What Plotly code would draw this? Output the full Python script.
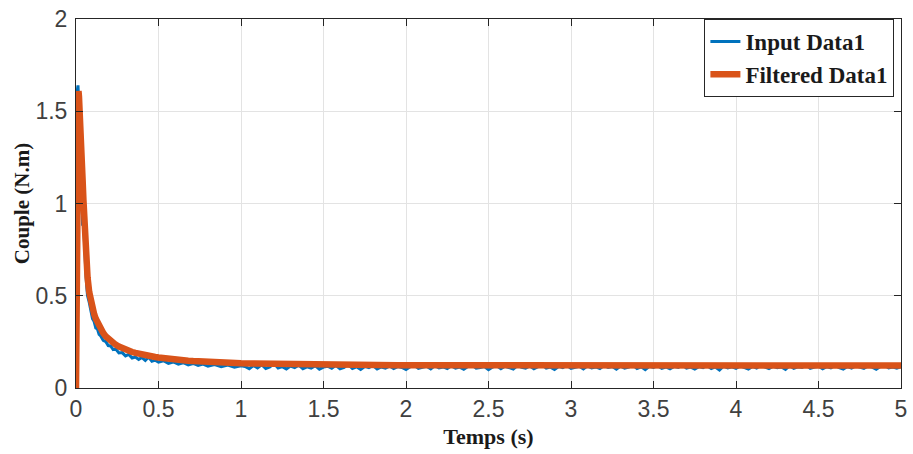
import plotly.graph_objects as go

# ---------------- data ----------------
t_early = [0, 0.003, 0.006, 0.009, 0.012, 0.015, 0.018, 0.022, 0.026, 0.03,
           0.035, 0.04, 0.045, 0.05, 0.055, 0.06, 0.065, 0.07, 0.08, 0.09,
           0.1, 0.11, 0.12, 0.13, 0.14, 0.15, 0.165, 0.18, 0.195, 0.21,
           0.225, 0.24, 0.26, 0.28, 0.3, 0.32, 0.34, 0.36, 0.38, 0.4,
           0.42, 0.44, 0.46, 0.48, 0.5, 0.53, 0.56, 0.59, 0.62, 0.65,
           0.68, 0.71, 0.74, 0.77, 0.8, 0.84, 0.88, 0.92, 0.96, 1.0]

# filtered signal tail sampling (every 0.05 s)
t_tail_filtered = [1.05, 1.1, 1.15, 1.2, 1.25, 1.3, 1.35, 1.4, 1.45, 1.5,
                   1.55, 1.6, 1.65, 1.7, 1.75, 1.8, 1.85, 1.9, 1.95, 2.0,
                   2.05, 2.1, 2.15, 2.2, 2.25, 2.3, 2.35, 2.4, 2.45, 2.5,
                   2.55, 2.6, 2.65, 2.7, 2.75, 2.8, 2.85, 2.9, 2.95, 3.0,
                   3.05, 3.1, 3.15, 3.2, 3.25, 3.3, 3.35, 3.4, 3.45, 3.5,
                   3.55, 3.6, 3.65, 3.7, 3.75, 3.8, 3.85, 3.9, 3.95, 4.0,
                   4.05, 4.1, 4.15, 4.2, 4.25, 4.3, 4.35, 4.4, 4.45, 4.5,
                   4.55, 4.6, 4.65, 4.7, 4.75, 4.8, 4.85, 4.9, 4.95, 5.0]

# input signal tail sampling (every 0.025 s)
t_tail_input = [1.025, 1.05, 1.075, 1.1, 1.125, 1.15, 1.175, 1.2, 1.225, 1.25,
                1.275, 1.3, 1.325, 1.35, 1.375, 1.4, 1.425, 1.45, 1.475, 1.5,
                1.525, 1.55, 1.575, 1.6, 1.625, 1.65, 1.675, 1.7, 1.725, 1.75,
                1.775, 1.8, 1.825, 1.85, 1.875, 1.9, 1.925, 1.95, 1.975, 2.0,
                2.025, 2.05, 2.075, 2.1, 2.125, 2.15, 2.175, 2.2, 2.225, 2.25,
                2.275, 2.3, 2.325, 2.35, 2.375, 2.4, 2.425, 2.45, 2.475, 2.5,
                2.525, 2.55, 2.575, 2.6, 2.625, 2.65, 2.675, 2.7, 2.725, 2.75,
                2.775, 2.8, 2.825, 2.85, 2.875, 2.9, 2.925, 2.95, 2.975, 3.0,
                3.025, 3.05, 3.075, 3.1, 3.125, 3.15, 3.175, 3.2, 3.225, 3.25,
                3.275, 3.3, 3.325, 3.35, 3.375, 3.4, 3.425, 3.45, 3.475, 3.5,
                3.525, 3.55, 3.575, 3.6, 3.625, 3.65, 3.675, 3.7, 3.725, 3.75,
                3.775, 3.8, 3.825, 3.85, 3.875, 3.9, 3.925, 3.95, 3.975, 4.0,
                4.025, 4.05, 4.075, 4.1, 4.125, 4.15, 4.175, 4.2, 4.225, 4.25,
                4.275, 4.3, 4.325, 4.35, 4.375, 4.4, 4.425, 4.45, 4.475, 4.5,
                4.525, 4.55, 4.575, 4.6, 4.625, 4.65, 4.675, 4.7, 4.725, 4.75,
                4.775, 4.8, 4.825, 4.85, 4.875, 4.9, 4.925, 4.95, 4.975, 5.0]

input_early = [0, 0.9, 1.45, 1.62, 1.64, 1.6, 1.52, 1.4, 1.28, 1.15,
               1.0, 0.88, 0.92, 0.78, 0.7, 0.62, 0.55, 0.5, 0.465, 0.41,
               0.375, 0.36, 0.325, 0.32, 0.29, 0.282, 0.258, 0.252, 0.23, 0.228,
               0.208, 0.212, 0.19, 0.192, 0.174, 0.182, 0.162, 0.168, 0.155, 0.165,
               0.149, 0.168, 0.145, 0.151, 0.14, 0.148, 0.134, 0.141, 0.129, 0.137,
               0.125, 0.133, 0.122, 0.13, 0.118, 0.127, 0.115, 0.124, 0.113, 0.121]

input_tail = [0.117, 0.104, 0.122, 0.109, 0.126, 0.106, 0.114, 0.133, 0.108, 0.116,
              0.103, 0.119, 0.111, 0.124, 0.105, 0.115, 0.108, 0.121, 0.102, 0.113,
              0.118, 0.107, 0.123, 0.104, 0.112, 0.128, 0.106, 0.115, 0.101, 0.117,
              0.11, 0.122, 0.103, 0.114, 0.108, 0.119, 0.105, 0.116, 0.111, 0.1,
              0.115, 0.123, 0.106, 0.112, 0.118, 0.103, 0.121, 0.109, 0.114, 0.105,
              0.12, 0.108, 0.113, 0.102, 0.117, 0.124, 0.107, 0.111, 0.116, 0.099,
              0.114, 0.121, 0.105, 0.118, 0.11, 0.103, 0.122, 0.112, 0.107, 0.119,
              0.104, 0.115, 0.126, 0.108, 0.113, 0.101, 0.117, 0.11, 0.123, 0.106,
              0.112, 0.118, 0.103, 0.12, 0.109, 0.114, 0.105, 0.122, 0.111, 0.116,
              0.102, 0.119, 0.108, 0.113, 0.124, 0.106, 0.115, 0.1, 0.118, 0.111,
              0.121, 0.107, 0.114, 0.104, 0.117, 0.112, 0.125, 0.108, 0.113, 0.103,
              0.116, 0.11, 0.122, 0.105, 0.114, 0.097, 0.119, 0.109, 0.115, 0.106,
              0.12, 0.111, 0.103, 0.117, 0.108, 0.123, 0.112, 0.105, 0.118, 0.11,
              0.114, 0.101, 0.121, 0.107, 0.115, 0.112, 0.124, 0.106, 0.113, 0.118,
              0.104, 0.116, 0.109, 0.122, 0.111, 0.103, 0.117, 0.108, 0.12, 0.112,
              0.106, 0.119, 0.113, 0.102, 0.116, 0.123, 0.109, 0.114, 0.107, 0.115]

filtered_early = [0, 0.7, 1.2, 1.5, 1.6, 1.61, 1.58, 1.52, 1.45, 1.37,
                  1.25, 1.13, 1.02, 0.92, 0.82, 0.73, 0.66, 0.6, 0.52, 0.47,
                  0.43, 0.4, 0.375, 0.355, 0.335, 0.318, 0.298, 0.28, 0.266, 0.254,
                  0.244, 0.235, 0.225, 0.216, 0.208, 0.201, 0.195, 0.19, 0.185, 0.181,
                  0.177, 0.174, 0.171, 0.168, 0.165, 0.161, 0.158, 0.155, 0.152, 0.15,
                  0.148, 0.146, 0.144, 0.142, 0.141, 0.139, 0.137, 0.136, 0.135, 0.134]

filtered_tail = [0.133, 0.132, 0.131, 0.130, 0.130, 0.129, 0.128, 0.128, 0.127, 0.127,
                 0.126, 0.126, 0.125, 0.125, 0.125, 0.124, 0.124, 0.124, 0.123, 0.123,
                 0.123, 0.122, 0.123, 0.122, 0.122, 0.121, 0.122, 0.123, 0.122, 0.121,
                 0.122, 0.122, 0.121, 0.122, 0.123, 0.122, 0.121, 0.122, 0.122, 0.121,
                 0.122, 0.121, 0.122, 0.122, 0.121, 0.122, 0.123, 0.122, 0.121, 0.122,
                 0.122, 0.121, 0.122, 0.122, 0.121, 0.122, 0.121, 0.122, 0.123, 0.122,
                 0.121, 0.122, 0.122, 0.121, 0.122, 0.122, 0.121, 0.122, 0.121, 0.122,
                 0.122, 0.121, 0.122, 0.123, 0.122, 0.121, 0.122, 0.122, 0.121, 0.122]

x_ticks = [0, 0.5, 1, 1.5, 2, 2.5, 3, 3.5, 4, 4.5, 5]
x_tick_labels = ["0", "0.5", "1", "1.5", "2", "2.5", "3", "3.5", "4", "4.5", "5"]
y_ticks = [0, 0.5, 1, 1.5, 2]
y_tick_labels = ["0", "0.5", "1", "1.5", "2"]

time_input = t_early + t_tail_input
time_filtered = t_early + t_tail_filtered
input_data = input_early + input_tail
filtered_data = filtered_early + filtered_tail

# ---------------- figure ----------------
BLUE = "#0072BD"
ORANGE = "#D95319"
AXC = "#262626"
serif = "Liberation Serif, Times New Roman, serif"
sans = "Liberation Sans, Arial, Helvetica, sans-serif"

fig = go.Figure()
fig.add_trace(go.Scatter(x=time_input, y=input_data, mode="lines",
                         name="<b>Input Data1</b>",
                         line=dict(color=BLUE, width=3)))
fig.add_trace(go.Scatter(x=time_filtered, y=filtered_data, mode="lines",
                         name="<b>Filtered Data1</b>",
                         line=dict(color=ORANGE, width=6.5)))

axis_common = dict(
    showgrid=True, gridcolor="#e3e3e3", gridwidth=1,
    showline=True, linecolor=AXC, linewidth=1, mirror="ticks",
    ticks="inside", ticklen=7, tickcolor=AXC, tickwidth=1,
    zeroline=False,
    tickfont=dict(family=sans, size=23, color="#404040"),
)

fig.update_layout(
    width=913, height=454,
    margin=dict(l=76, r=6, t=14, b=66),
    paper_bgcolor="white", plot_bgcolor="white",
    xaxis=dict(range=[0, 5], tickvals=x_ticks, ticktext=x_tick_labels,
               title=dict(text="<b>Temps (s)</b>", standoff=8,
                          font=dict(family=serif, size=22, color="#1a1a1a")),
               **axis_common),
    yaxis=dict(range=[0, 2], tickvals=y_ticks, ticktext=y_tick_labels,
               ticklabelstandoff=3,
               title=dict(text="<b>Couple (N.m)</b>", standoff=0,
                          font=dict(family=serif, size=21, color="#1a1a1a")),
               **axis_common),
    legend=dict(x=0.992, y=1.0, xanchor="right", yanchor="top",
                bgcolor="white", bordercolor=AXC, borderwidth=1,
                font=dict(family=serif, size=23, color="#1a1a1a"),
                tracegroupgap=0, itemwidth=30),
    showlegend=True,
)

fig.write_html("out.html")
